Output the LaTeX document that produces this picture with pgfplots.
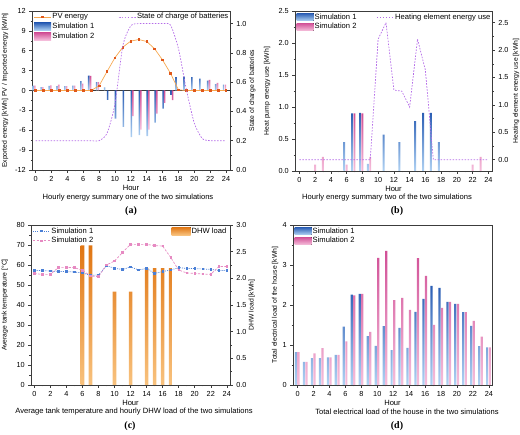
\documentclass[border=0pt]{standalone}
\usepackage{pgfplots}
\pgfplotsset{compat=1.18}
\usepackage{fontspec}
\setmainfont{Liberation Sans}
\newfontfamily\panelfont{Liberation Serif}

% colours
\definecolor{simA}{HTML}{2A5DB4}
\definecolor{simAlt}{HTML}{B0D2F3}
\definecolor{simB}{HTML}{D14F96}
\definecolor{simBlt}{HTML}{F5BEDB}
\definecolor{pvLine}{HTML}{F7A850}
\definecolor{pvMark}{HTML}{E0571A}
\definecolor{socLine}{HTML}{B46BE8}
\definecolor{dhwDk}{HTML}{E07512}
\definecolor{dhwLt}{HTML}{F8C27E}
\definecolor{tempA}{HTML}{4A7FD6}
\definecolor{tempB}{HTML}{E68AC2}
\definecolor{spine}{HTML}{3C3C3C}

\newcommand{\sz}{\fontsize{7.6}{8.4}\selectfont}
\newcommand{\tsz}{\fontsize{7.3}{8}\selectfont}
\newcommand{\ysz}{\fontsize{6.8}{7.5}\selectfont}

\pgfplotsset{
  every axis/.append style={
    scale only axis,
    font=\sz,
    /pgf/number format/assume math mode=true,
    enlargelimits=false,
    axis line style={spine, line width=0.6pt},
    every tick/.style={spine, line width=0.5pt},
    tick align=outside,
    major tick length=2.8pt,
    minor tick length=1.5pt,
    xtick={0,2,...,24},
    minor x tick num=1,
    xtick pos=bottom,
    tick label style={font=\tsz},
    xlabel style={font=\sz, at={(axis description cs:0.5,0)}, anchor=center, yshift=-17.5pt},
    legend style={draw=none, fill=none, font=\sz, inner sep=0.5pt,
      row sep=0.8pt, nodes={inner sep=1pt}},
    legend cell align=left,
  },
  ylab/.style={ylabel style={font=\ysz, at={(axis description cs:#1,0.5)}, anchor=center}},
  fixed1/.style={/pgf/number format/.cd, fixed, fixed zerofill, precision=1},
  barA/.style={ybar, draw=none, top color=simA, bottom color=simAlt},
  barB/.style={ybar, draw=none, top color=simB, bottom color=simBlt},
  legA/.style={legend image code/.code={%
    \fill[top color=simA, bottom color=simAlt] (0pt,-3.8pt) rectangle (17pt,3.8pt);}},
  legB/.style={legend image code/.code={%
    \fill[top color=simB, bottom color=simBlt] (0pt,-3.8pt) rectangle (17pt,3.8pt);}},
  legD/.style={legend image code/.code={%
    \fill[top color=dhwDk, bottom color=dhwLt] (0pt,-4pt) rectangle (19pt,4pt);}},
  pvstyle/.style={pvLine, line width=0.7pt, mark=square*, mark size=0.8pt,
    mark options={fill=pvMark, draw=pvMark}},
  purpledash/.style={socLine, line width=0.7pt, dash pattern=on 1.6pt off 1.4pt},
}

\begin{document}
\begin{tikzpicture}
\path[use as bounding box] (0pt,0pt) rectangle (520pt,-435pt);

% ---------------- (a) hourly energy summary one ----------------
\begin{axis}[
  at={(32pt,-170pt)}, anchor=south west, width=198pt, height=159pt,
  xmin=-0.45, xmax=24.5, ymin=-12, ymax=12,
  ytick={-12,-9,...,12}, minor y tick num=1, ytick pos=left,
  xlabel={Hour},
  ylabel={Exported energy [kWh] PV / Imported energy [kWh]}, ylab=-0.136,
  extra y ticks={0}, extra y tick labels={},
  extra y tick style={grid=major, major grid style={spine, line width=0.6pt}, major tick length=0pt},
  legend style={at={(0.005,0.995)}, anchor=north west},
]
\addlegendimage{pvstyle}
\addlegendentry{PV energy}
% imported energy
\addplot[barA, legA, bar width=0.2, bar shift=-0.3] coordinates {
  (0,0.75)(1,0.50)(2,0.68)(3,0.65)(4,0.65)(5,0.75)(6,1.40)(7,2.25)(8,1.25)(9,0.48)
  (18,2.00)(19,2.08)(20,2.00)(21,1.78)(22,1.48)(23,0.98)(24,0.90)};
\addlegendentry{Simulation 1}
\addplot[barB, legB, bar width=0.2, bar shift=-0.08] coordinates {
  (0,0.75)(1,0.50)(2,0.78)(3,0.88)(4,0.65)(5,0.75)(6,1.02)(7,2.20)(8,1.25)
  (22,1.60)(23,1.15)(24,0.90)};
\addlegendentry{Simulation 2}
% exported energy
\addplot[barA, bar width=0.2, bar shift=0.07, forget plot] coordinates {
  (9,-1.40)(10,-4.25)(11,-5.50)(12,-7.05)(13,-6.75)(14,-6.90)(15,-4.85)(16,-2.75)(17,-0.65)};
\addplot[barB, bar width=0.2, bar shift=0.27, forget plot] coordinates {
  (12,-3.85)(13,-5.90)(14,-5.90)(15,-3.50)(16,-1.85)(17,-1.45)};
% PV production
\addplot[pvstyle, forget plot] coordinates {
  (0,0)(1,0)(2,0)(3,0)(4,0)(5,0)(6,0)(7,0)(8,0.7)(9,2.85)(10,4.95)(11,6.55)
  (12,7.45)(13,7.70)(14,7.40)(15,6.30)(16,4.60)(17,2.60)(18,0.1)(19,0)(20,0)
  (21,0)(22,0)(23,0)(24,0)};
\end{axis}
\begin{axis}[
  at={(32pt,-170pt)}, anchor=south west, width=198pt, height=159pt,
  xmin=-0.45, xmax=24.5, ymin=0, ymax=1.086,
  axis x line=none, axis y line*=right,
  ytick={0,0.2,0.4,0.6,0.8,1.0}, minor y tick num=1,
  yticklabel style={fixed1},
  ylabel={State of charge of batteries}, ylab=1.113,
  legend style={at={(1,0.995)}, anchor=north east},
]
\addplot[purpledash, smooth, tension=0.4] coordinates {
  (0,0.2)(1,0.2)(2,0.2)(3,0.2)(4,0.2)(5,0.2)(6,0.2)(7,0.2)(8,0.2)(9,0.25)
  (10,0.45)(11,0.85)(12,0.985)(13,1.0)(14,1.0)(15,1.0)(16,1.0)(17,0.99)(18,0.83)
  (19,0.55)(20,0.32)(21,0.215)(22,0.2)(23,0.2)(24,0.2)};
\addlegendentry{State of charge of batteries}
\end{axis}
\node[font=\sz] at (128pt,-197.5pt) {Hourly energy summary one of the two simulations};
\node[font=\panelfont\bfseries\fontsize{10}{12}\selectfont] at (131pt,-211pt) {(a)};

% ---------------- (b) hourly energy summary two ----------------
\begin{axis}[
  at={(295pt,-171pt)}, anchor=south west, width=197pt, height=160pt,
  xmin=-0.55, xmax=24.45, ymin=0, ymax=2.5,
  ytick={0,0.5,...,2.5}, minor y tick num=1, ytick pos=left,
  yticklabel style={fixed1},
  xlabel={Hour},
  ylabel={Heat pump energy use [kWh]}, ylab=-0.142,
  legend style={at={(0.005,0.995)}, anchor=north west},
]
\addplot[barA, legA, bar width=0.25, bar shift=-0.3] coordinates {
  (6,0.45)(7,0.90)(8,0.91)(9,0.11)(11,0.57)(13,0.45)(15,0.78)(16,0.91)(17,0.91)(18,0.45)};
\addlegendentry{Simulation 1}
\addplot[barB, legB, bar width=0.25, bar shift=0] coordinates {
  (2,0.10)(3,0.22)(6,0.10)(7,0.90)(8,0.90)(9,0.22)(22,0.10)(23,0.22)};
\addlegendentry{Simulation 2}
\end{axis}
\begin{axis}[
  at={(295pt,-171pt)}, anchor=south west, width=197pt, height=160pt,
  xmin=-0.55, xmax=24.45, ymin=-0.207, ymax=2.713,
  axis x line=none, axis y line*=right,
  ytick={0,0.5,...,2.5}, minor y tick num=1,
  yticklabel style={fixed1},
  ylabel={Heating element energy use [kWh]}, ylab=1.122,
  legend style={at={(1,0.995)}, anchor=north east},
]
\addplot[purpledash] coordinates {
  (0,0)(1,0)(2,0)(3,0)(4,0)(5,0)(6,0)(7,0)(8,0)(9,0)(10,2.20)(11,2.50)
  (12,1.27)(13,1.25)(14,0.96)(15,2.20)(16,1.63)(17,0)(18,0)(19,0)(20,0)
  (21,0)(22,0)(23,0)(24,0)};
\addlegendentry{Heating element energy use}
\end{axis}
\node[font=\sz] at (387pt,-197.5pt) {Hourly energy summary two of the two simulations};
\node[font=\panelfont\bfseries\fontsize{10}{12}\selectfont] at (397pt,-211pt) {(b)};

% ---------------- (c) tank temperature and DHW load ----------------
\begin{axis}[
  at={(31pt,-385pt)}, anchor=south west, width=199pt, height=160pt,
  xmin=-0.42, xmax=24.4, ymin=0, ymax=3,
  ytick={0,0.5,...,3}, minor y tick num=1, ytick pos=right,
  yticklabel style={fixed1},
  xlabel={Hour},
  ylabel={DHW load [kWh]}, ylab=1.11,
  legend style={at={(0.99,0.995)}, anchor=north east},
]
\addplot[ybar, draw=none, top color=dhwDk, bottom color=dhwLt, legD,
  bar width=0.45, bar shift=0] coordinates {
  (6,2.62)(7,2.62)(10,1.75)(12,1.75)(14,2.19)(15,2.19)(16,2.19)(17,2.19)};
\addlegendentry{DHW load}
\end{axis}
\begin{axis}[
  at={(31pt,-385pt)}, anchor=south west, width=199pt, height=160pt,
  xmin=-0.42, xmax=24.4, ymin=0, ymax=80,
  axis x line=none, axis y line*=left,
  ytick={0,10,...,80}, minor y tick num=1,
  ylabel={Average tank temperature [\textdegree C]}, ylab=-0.131,
  legend style={at={(0.005,0.995)}, anchor=north west},
]
\addplot[tempA, line width=0.7pt, dash pattern=on 1pt off 1.2pt,
  mark=square*, mark size=0.8pt, mark options={solid, fill=tempA}] coordinates {
  (0,57.3)(1,57.2)(2,57.0)(3,56.8)(4,56.7)(5,56.5)(6,56.0)(7,54.8)(8,55.0)
  (9,59.7)(10,58.3)(11,57.8)(12,59.0)(13,57.5)(14,58.3)(15,55.8)(16,56.7)
  (17,57.5)(18,58.7)(19,58.3)(20,58.2)(21,58.0)(22,57.8)(23,57.3)(24,57.2)};
\addlegendentry{Simulation 1}
\addplot[tempB, line width=0.7pt, dash pattern=on 2.2pt off 1.5pt,
  mark=square*, mark size=0.8pt, mark options={solid, fill=tempB}] coordinates {
  (0,55.7)(1,55.3)(2,55.3)(3,58.8)(4,58.8)(5,58.7)(6,57.3)(7,54.5)(8,54.2)
  (9,60.0)(10,62.0)(11,66.3)(12,70.3)(13,70.3)(14,70.3)(15,69.7)(16,69.5)
  (17,63.8)(18,57.5)(19,56.0)(20,55.8)(21,55.5)(22,55.3)(23,59.2)(24,59.2)};
\addlegendentry{Simulation 2}
\end{axis}
\node[font=\sz] at (134pt,-411.5pt) {Average tank temperature and hourly DHW load of the two simulations};
\node[font=\panelfont\bfseries\fontsize{10}{12}\selectfont] at (130pt,-426pt) {(c)};

% ---------------- (d) total electrical load ----------------
\begin{axis}[
  at={(293pt,-385pt)}, anchor=south west, width=199pt, height=160pt,
  xmin=-0.58, xmax=24.4, ymin=0, ymax=4,
  ytick={0,1,...,4}, minor y tick num=1, ytick pos=left,
  xlabel={Hour},
  ylabel={Total electrical load of the house [kWh]}, ylab=-0.09,
  legend style={at={(0.005,0.995)}, anchor=north west},
]
\addplot[barA, legA, bar width=0.28, bar shift=-0.2] coordinates {
  (0,0.82)(1,0.575)(2,0.67)(3,0.67)(4,0.69)(5,0.75)(6,1.46)(7,2.26)(8,2.28)
  (9,1.22)(10,0.98)(11,1.47)(12,0.87)(13,1.43)(14,0.93)(15,1.83)(16,2.15)
  (17,2.48)(18,2.43)(19,2.08)(20,2.03)(21,1.82)(22,1.48)(23,0.97)(24,0.94)};
\addlegendentry{Simulation 1}
\addplot[barB, legB, bar width=0.28, bar shift=0.12] coordinates {
  (0,0.82)(1,0.575)(2,0.79)(3,0.92)(4,0.69)(5,0.75)(6,1.09)(7,2.24)(8,2.28)
  (9,1.33)(10,3.18)(11,3.35)(12,2.12)(13,2.18)(14,1.88)(15,3.17)(16,2.73)
  (17,1.50)(18,1.93)(19,2.08)(20,2.03)(21,1.82)(22,1.60)(23,1.21)(24,0.94)};
\addlegendentry{Simulation 2}
\end{axis}
\node[font=\sz] at (407pt,-411.5pt) {Total electrical load of the house in the two simulations};
\node[font=\panelfont\bfseries\fontsize{10}{12}\selectfont] at (397pt,-426pt) {(d)};
\end{tikzpicture}
\end{document}
